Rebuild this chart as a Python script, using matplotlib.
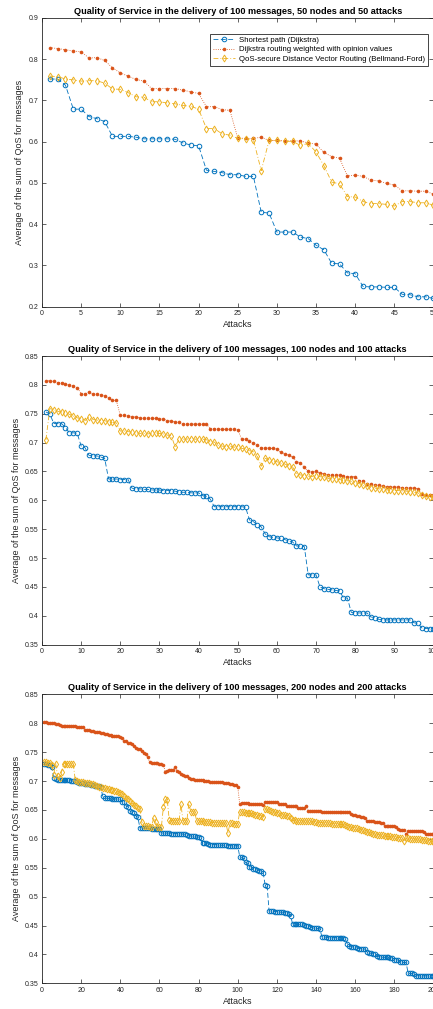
import matplotlib
matplotlib.use('Agg')
import matplotlib.pyplot as plt
from matplotlib.ticker import FuncFormatter

plt.rcParams['font.family'] = ['Liberation Sans', 'DejaVu Sans']
plt.rcParams['lines.scale_dashes'] = False

BLUE = (0.0, 0.447, 0.741)
ORANGE = (0.85, 0.325, 0.098)
YELLOW = (0.929, 0.694, 0.125)
GREY = (0.15, 0.15, 0.15)

labels = ['Shortest path (Dijkstra)',
          'Dijkstra routing weighted with opinion values',
          'QoS-secure Distance Vector Routing (Bellmand-Ford)']

# ---- 50 nodes / 50 attacks
sp50 = [0.752, 0.752, 0.737, 0.679, 0.679, 0.661, 0.656, 0.649, 0.613, 0.613,
        0.613, 0.611, 0.607, 0.607, 0.607, 0.607, 0.606, 0.597, 0.592, 0.590,
        0.531, 0.528, 0.525, 0.520, 0.520, 0.516, 0.516, 0.429, 0.427, 0.381,
        0.381, 0.381, 0.369, 0.365, 0.349, 0.338, 0.305, 0.304, 0.282, 0.280,
        0.249, 0.248, 0.248, 0.247, 0.247, 0.230, 0.229, 0.224, 0.224, 0.220]
ow50 = [0.828, 0.826, 0.823, 0.820, 0.818, 0.803, 0.804, 0.797, 0.779, 0.767,
        0.759, 0.751, 0.747, 0.729, 0.729, 0.729, 0.729, 0.725, 0.721, 0.717,
        0.685, 0.685, 0.678, 0.676, 0.609, 0.608, 0.608, 0.611, 0.603, 0.603,
        0.602, 0.602, 0.602, 0.597, 0.594, 0.574, 0.564, 0.560, 0.517, 0.519,
        0.516, 0.507, 0.505, 0.499, 0.495, 0.481, 0.481, 0.480, 0.480, 0.473]
qd50 = [0.759, 0.758, 0.752, 0.750, 0.747, 0.748, 0.748, 0.742, 0.728, 0.727,
        0.719, 0.709, 0.708, 0.697, 0.697, 0.694, 0.692, 0.688, 0.686, 0.679,
        0.632, 0.632, 0.619, 0.616, 0.608, 0.607, 0.605, 0.530, 0.603, 0.603,
        0.601, 0.601, 0.591, 0.596, 0.575, 0.542, 0.502, 0.498, 0.467, 0.466,
        0.455, 0.450, 0.450, 0.448, 0.444, 0.455, 0.455, 0.452, 0.452, 0.446]

# ---- 100 nodes / 100 attacks
sp100 = [0.753, 0.750, 0.733, 0.733, 0.733, 0.726, 0.717, 0.717, 0.716, 0.694,
         0.691, 0.678, 0.677, 0.677, 0.675, 0.673, 0.637, 0.637, 0.637, 0.636,
         0.636, 0.636, 0.621, 0.620, 0.620, 0.619, 0.619, 0.618, 0.618, 0.618,
         0.617, 0.617, 0.617, 0.616, 0.614, 0.614, 0.614, 0.613, 0.613, 0.613,
         0.608, 0.607, 0.602, 0.589, 0.589, 0.589, 0.589, 0.589, 0.589, 0.589,
         0.589, 0.588, 0.566, 0.563, 0.558, 0.554, 0.542, 0.537, 0.536, 0.535,
         0.534, 0.532, 0.530, 0.528, 0.521, 0.521, 0.520, 0.471, 0.471, 0.471,
         0.450, 0.447, 0.446, 0.445, 0.444, 0.443, 0.431, 0.431, 0.406, 0.405,
         0.405, 0.405, 0.405, 0.398, 0.397, 0.394, 0.393, 0.393, 0.393, 0.393,
         0.393, 0.393, 0.393, 0.393, 0.388, 0.387, 0.379, 0.378, 0.378, 0.377]
ow100 = [0.807, 0.807, 0.806, 0.804, 0.804, 0.802, 0.799, 0.798, 0.795, 0.785,
         0.784, 0.788, 0.784, 0.784, 0.783, 0.781, 0.777, 0.773, 0.773, 0.747,
         0.747, 0.746, 0.745, 0.744, 0.743, 0.742, 0.742, 0.742, 0.742, 0.741,
         0.741, 0.738, 0.737, 0.736, 0.735, 0.732, 0.732, 0.732, 0.732, 0.732,
         0.732, 0.732, 0.724, 0.724, 0.723, 0.723, 0.723, 0.723, 0.723, 0.722,
         0.706, 0.706, 0.702, 0.699, 0.695, 0.691, 0.691, 0.690, 0.690, 0.689,
         0.683, 0.681, 0.678, 0.675, 0.667, 0.665, 0.657, 0.650, 0.649, 0.650,
         0.647, 0.646, 0.644, 0.644, 0.644, 0.644, 0.642, 0.641, 0.641, 0.641,
         0.634, 0.634, 0.628, 0.628, 0.627, 0.626, 0.624, 0.623, 0.623, 0.623,
         0.623, 0.622, 0.622, 0.622, 0.621, 0.620, 0.611, 0.610, 0.610, 0.609]
qd100 = [0.705, 0.759, 0.757, 0.754, 0.753, 0.752, 0.749, 0.746, 0.743, 0.741,
         0.738, 0.744, 0.740, 0.739, 0.738, 0.738, 0.736, 0.735, 0.734, 0.720,
         0.720, 0.719, 0.718, 0.717, 0.716, 0.716, 0.715, 0.716, 0.717, 0.716,
         0.715, 0.713, 0.712, 0.693, 0.706, 0.706, 0.706, 0.707, 0.706, 0.706,
         0.706, 0.705, 0.701, 0.701, 0.695, 0.694, 0.693, 0.694, 0.692, 0.693,
         0.690, 0.689, 0.686, 0.684, 0.676, 0.659, 0.673, 0.670, 0.668, 0.667,
         0.664, 0.663, 0.660, 0.658, 0.646, 0.644, 0.643, 0.642, 0.641, 0.643,
         0.641, 0.640, 0.638, 0.637, 0.637, 0.636, 0.635, 0.634, 0.633, 0.630,
         0.629, 0.626, 0.624, 0.622, 0.621, 0.620, 0.619, 0.618, 0.618, 0.617,
         0.617, 0.616, 0.616, 0.615, 0.614, 0.613, 0.609, 0.607, 0.606, 0.605]

# ---- 200 nodes / 200 attacks
sp200 = [0.729, 0.729, 0.728, 0.727, 0.724, 0.705, 0.703, 0.702, 0.702, 0.702,
         0.701, 0.701, 0.701, 0.701, 0.700, 0.700, 0.700, 0.698, 0.697, 0.697,
         0.696, 0.695, 0.695, 0.694, 0.693, 0.693, 0.692, 0.691, 0.691, 0.690,
         0.674, 0.671, 0.670, 0.670, 0.670, 0.669, 0.669, 0.669, 0.668, 0.668,
         0.664, 0.663, 0.657, 0.655, 0.648, 0.646, 0.645, 0.640, 0.637, 0.619,
         0.619, 0.618, 0.618, 0.618, 0.618, 0.617, 0.617, 0.617, 0.617, 0.617,
         0.610, 0.610, 0.610, 0.610, 0.610, 0.609, 0.609, 0.609, 0.609, 0.609,
         0.609, 0.608, 0.608, 0.606, 0.605, 0.605, 0.604, 0.604, 0.603, 0.603,
         0.601, 0.592, 0.592, 0.592, 0.591, 0.590, 0.590, 0.590, 0.590, 0.589,
         0.589, 0.589, 0.589, 0.589, 0.588, 0.588, 0.588, 0.588, 0.588, 0.588,
         0.569, 0.568, 0.566, 0.559, 0.558, 0.552, 0.551, 0.548, 0.547, 0.546,
         0.545, 0.544, 0.541, 0.520, 0.519, 0.475, 0.475, 0.475, 0.474, 0.474,
         0.474, 0.473, 0.473, 0.472, 0.471, 0.470, 0.467, 0.453, 0.453, 0.452,
         0.452, 0.452, 0.452, 0.450, 0.449, 0.449, 0.448, 0.446, 0.445, 0.445,
         0.445, 0.444, 0.430, 0.430, 0.430, 0.429, 0.429, 0.429, 0.429, 0.429,
         0.429, 0.429, 0.428, 0.428, 0.426, 0.418, 0.414, 0.413, 0.413, 0.413,
         0.411, 0.410, 0.410, 0.410, 0.409, 0.404, 0.402, 0.402, 0.401, 0.401,
         0.397, 0.396, 0.395, 0.395, 0.395, 0.395, 0.395, 0.394, 0.394, 0.391,
         0.391, 0.390, 0.387, 0.386, 0.386, 0.386, 0.368, 0.367, 0.367, 0.366,
         0.363, 0.363, 0.363, 0.363, 0.363, 0.363, 0.363, 0.363, 0.363, 0.363]
ow200 = [0.802, 0.802, 0.801, 0.801, 0.801, 0.800, 0.799, 0.799, 0.797, 0.795,
         0.795, 0.795, 0.795, 0.795, 0.795, 0.795, 0.795, 0.794, 0.794, 0.794,
         0.793, 0.789, 0.789, 0.788, 0.786, 0.786, 0.785, 0.784, 0.784, 0.783,
         0.783, 0.782, 0.781, 0.780, 0.779, 0.778, 0.777, 0.777, 0.777, 0.776,
         0.774, 0.770, 0.769, 0.766, 0.765, 0.764, 0.761, 0.757, 0.756, 0.755,
         0.752, 0.748, 0.747, 0.741, 0.733, 0.731, 0.731, 0.731, 0.731, 0.730,
         0.729, 0.728, 0.716, 0.718, 0.719, 0.719, 0.719, 0.724, 0.717, 0.716,
         0.712, 0.711, 0.709, 0.708, 0.705, 0.704, 0.704, 0.702, 0.702, 0.701,
         0.701, 0.701, 0.700, 0.700, 0.700, 0.699, 0.699, 0.699, 0.699, 0.699,
         0.698, 0.698, 0.697, 0.697, 0.697, 0.694, 0.694, 0.693, 0.693, 0.690,
         0.660, 0.662, 0.662, 0.662, 0.662, 0.661, 0.661, 0.661, 0.661, 0.660,
         0.660, 0.660, 0.659, 0.663, 0.664, 0.664, 0.664, 0.664, 0.664, 0.663,
         0.661, 0.661, 0.660, 0.660, 0.657, 0.657, 0.657, 0.656, 0.656, 0.656,
         0.654, 0.654, 0.653, 0.653, 0.657, 0.648, 0.648, 0.648, 0.648, 0.648,
         0.648, 0.648, 0.647, 0.647, 0.647, 0.647, 0.647, 0.647, 0.647, 0.647,
         0.646, 0.646, 0.646, 0.646, 0.646, 0.646, 0.646, 0.643, 0.642, 0.641,
         0.640, 0.639, 0.638, 0.637, 0.636, 0.631, 0.630, 0.630, 0.630, 0.629,
         0.629, 0.629, 0.628, 0.628, 0.623, 0.623, 0.623, 0.622, 0.622, 0.622,
         0.621, 0.617, 0.616, 0.616, 0.615, 0.609, 0.614, 0.614, 0.614, 0.614,
         0.614, 0.613, 0.613, 0.613, 0.612, 0.609, 0.609, 0.608, 0.608, 0.608]
qd200 = [0.733, 0.733, 0.732, 0.731, 0.728, 0.711, 0.730, 0.708, 0.706, 0.716,
         0.730, 0.730, 0.730, 0.730, 0.729, 0.729, 0.701, 0.700, 0.699, 0.699,
         0.698, 0.697, 0.697, 0.696, 0.695, 0.694, 0.693, 0.692, 0.690, 0.689,
         0.688, 0.688, 0.687, 0.686, 0.685, 0.684, 0.683, 0.682, 0.681, 0.679,
         0.677, 0.674, 0.671, 0.668, 0.665, 0.662, 0.659, 0.656, 0.654, 0.652,
         0.629, 0.622, 0.622, 0.622, 0.621, 0.621, 0.636, 0.629, 0.621, 0.621,
         0.621, 0.655, 0.668, 0.667, 0.632, 0.631, 0.631, 0.631, 0.631, 0.631,
         0.660, 0.631, 0.631, 0.631, 0.661, 0.647, 0.646, 0.646, 0.631, 0.630,
         0.630, 0.630, 0.629, 0.629, 0.629, 0.629, 0.628, 0.628, 0.628, 0.628,
         0.627, 0.627, 0.627, 0.627, 0.610, 0.627, 0.627, 0.626, 0.626, 0.626,
         0.647, 0.646, 0.646, 0.645, 0.645, 0.644, 0.644, 0.643, 0.642, 0.641,
         0.640, 0.640, 0.638, 0.652, 0.651, 0.649, 0.648, 0.647, 0.646, 0.645,
         0.644, 0.642, 0.641, 0.641, 0.640, 0.639, 0.636, 0.632, 0.632, 0.631,
         0.631, 0.631, 0.631, 0.630, 0.630, 0.630, 0.630, 0.630, 0.629, 0.629,
         0.628, 0.628, 0.628, 0.627, 0.627, 0.627, 0.627, 0.626, 0.626, 0.626,
         0.626, 0.625, 0.625, 0.625, 0.624, 0.622, 0.621, 0.620, 0.619, 0.618,
         0.618, 0.617, 0.616, 0.615, 0.614, 0.612, 0.611, 0.610, 0.609, 0.608,
         0.607, 0.607, 0.606, 0.606, 0.605, 0.604, 0.604, 0.604, 0.603, 0.603,
         0.603, 0.602, 0.602, 0.601, 0.596, 0.601, 0.601, 0.600, 0.600, 0.600,
         0.599, 0.599, 0.599, 0.598, 0.598, 0.598, 0.597, 0.597, 0.596, 0.596]


def draw_panel(ax, sp, ow, qd, nodes, ymin, ymax, ystep, xstep):
	x = list(range(1, len(sp) + 1))
	ax.plot(x, sp, color=BLUE, ls=(0, (3.5, 1.8)), lw=0.6, marker='o', ms=3.3,
	        mfc='none', mew=0.7, label=labels[0])
	ax.plot(x, ow, color=ORANGE, ls=(0, (0.6, 1.0)), lw=0.6, marker='o', ms=2.6,
	        mew=0, label=labels[1])
	ax.plot(x, qd, color=YELLOW, ls=(0, (3.5, 1.5, 0.6, 1.5)), lw=0.6, marker='d',
	        ms=3.5, mfc='none', mew=0.7, label=labels[2])

	ax.set_xlim(0, len(sp))
	ax.set_ylim(ymin, ymax)
	ax.set_xticks(range(0, len(sp) + 1, xstep))
	n = int(round((ymax - ymin) / ystep))
	ax.set_yticks([ymin + i * ystep for i in range(n + 1)])
	ax.yaxis.set_major_formatter(FuncFormatter(lambda v, p: '%g' % round(v, 3)))

	ax.tick_params(direction='in', length=3, width=0.5, top=True, right=True,
	               labelsize=5, colors=GREY, pad=2.5)
	for s in ax.spines.values():
		s.set_linewidth(0.6)
		s.set_color(GREY)

	ax.set_title('Quality of Service in the delivery of 100 messages, %d nodes and %d attacks'
	             % (nodes, nodes), fontsize=6.6, fontweight='bold', pad=3)
	ax.set_xlabel('Attacks', fontsize=6.5, color=GREY, labelpad=2)
	ax.set_ylabel('Average of the sum of QoS for messages', fontsize=6.5,
	              color=GREY, labelpad=3)


fig = plt.figure(figsize=(4.33, 10.09), dpi=100)
W, H = 433.0, 1009.0
left = 42 / W
width = 391.5 / W

ax1 = fig.add_axes([left, 1 - 306.7 / H, width, 288.7 / H])
ax2 = fig.add_axes([left, 1 - 644.7 / H, width, 288.7 / H])
ax3 = fig.add_axes([left, 1 - 983.3 / H, width, 289.0 / H])

draw_panel(ax1, sp50, ow50, qd50, 50, 0.2, 0.9, 0.1, 5)
draw_panel(ax2, sp100, ow100, qd100, 100, 0.35, 0.85, 0.05, 10)
draw_panel(ax3, sp200, ow200, qd200, 200, 0.35, 0.85, 0.05, 20)

leg = ax1.legend(loc='upper right', bbox_to_anchor=(0.985, 0.945), borderaxespad=0,
                 fontsize=5.6, handlelength=2.8, handletextpad=0.5, labelspacing=0.25,
                 borderpad=0.35, fancybox=False, framealpha=1)
leg.get_frame().set_edgecolor(GREY)
leg.get_frame().set_linewidth(0.6)

fig.savefig('out.png', dpi=100)
